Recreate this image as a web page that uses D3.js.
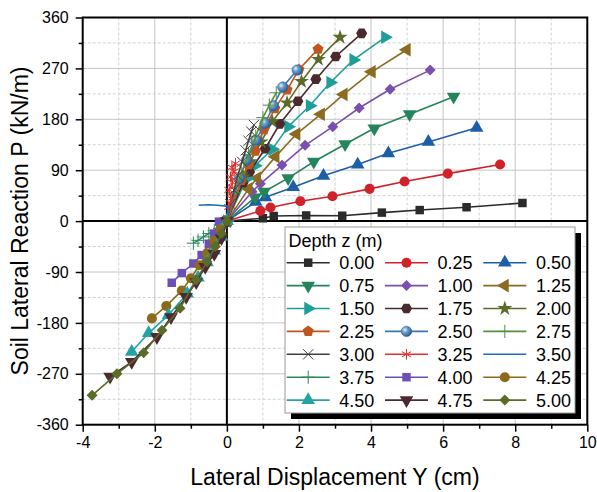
<!DOCTYPE html>
<html>
<head>
<meta charset="utf-8">
<script src="https://cdn.jsdelivr.net/npm/d3@7"></script>
<style>
  body { margin: 0; background: #fff; }
  svg text { font-family: "Liberation Sans", Arial, sans-serif; fill: #000; }
</style>
</head>
<body>
<div id="chart"></div>
<script>
// depth labels (legend)
var depths = ["0.00","0.25","0.50","0.75","1.00","1.25","1.50","1.75","2.00","2.25","2.50",
              "2.75","3.00","3.25","3.50","3.75","4.00","4.25","4.50","4.75","5.00"];

// [lateral displacement Y (cm), soil reaction P (kN/m)] for each depth
var pyPoints = [
  [[0,0],[1.0,5],[1.3,9],[2.2,10],[3.2,9.5],[4.3,15],[5.35,19.5],[6.65,24.5],[8.2,32]],
  [[0,0],[0.93,18],[1.21,24],[2.04,35],[2.93,44],[3.96,57],[4.93,70],[6.13,84],[7.58,100]],
  [[0,0],[0.8,34],[1.07,42],[1.84,60],[2.68,80],[3.63,100],[4.48,120],[5.59,140],[6.93,165]],
  [[0,0],[0.78,42],[1.03,52],[1.7,76],[2.41,105],[3.28,136],[4.09,164],[5.07,189],[6.29,220]],
  [[0,0],[0.7,52],[0.93,66],[1.53,99],[2.17,134],[2.94,167],[3.67,200],[4.53,233],[5.64,267]],
  [[0,0],[0.6,57],[0.84,76],[1.35,114],[1.93,154],[2.61,189],[3.24,224],[4.02,264],[4.99,303]],
  [[0,0],[0.55,75],[0.78,98],[1.26,127],[1.7,167],[2.3,204],[2.87,245],[3.51,285],[4.39,325]],
  [[0,0],[0.45,68],[0.63,87],[1.06,128],[1.47,172],[1.97,212],[2.47,251],[3.02,291],[3.74,332]],
  [[0,0],[0.45,78],[0.65,105],[0.95,140],[1.26,176],[1.67,209],[2.07,247],[2.54,286],[3.14,325]],
  [[0,0],[0.4,72],[0.6,100],[0.79,124],[1.03,162],[1.33,199],[1.67,232],[2.0,268],[2.53,304]],
  [[0,0],[0.35,75],[0.55,108],[0.81,143],[1.06,173],[1.29,204],[1.55,237],[1.95,267]],
  [[0,0],[0.2,50],[0.4,85],[0.6,118],[0.8,150],[1.0,183],[1.18,205],[1.37,227]],
  [[0,0],[0.1,30],[0.2,55],[0.3,80],[0.42,105],[0.52,125],[0.6,142],[0.68,158],[0.75,170]],
  [[0,0],[0.05,25],[0.12,40],[0.06,55],[0.16,68],[0.1,78],[0.2,88],[0.14,95],[0.24,102]],
  [[0,0],[0.03,26],[-0.25,28],[-0.5,29],[-0.78,28]],
  [[0,0],[-0.1,-6],[-0.2,-13],[-0.35,-17],[-0.5,-22],[-0.65,-28],[-0.8,-34],[-0.93,-39]],
  [[0,0],[-0.22,-1],[-0.35,-22],[-0.5,-40],[-0.7,-60],[-0.93,-75],[-1.25,-92],[-1.53,-109]],
  [[0,0],[-0.18,-14],[-0.35,-35],[-0.55,-57],[-0.76,-78],[-1.0,-101],[-1.25,-123],[-1.68,-150],[-2.08,-172]],
  [[0,0],[-0.14,-28],[-0.35,-52],[-0.55,-73],[-0.8,-100],[-1.1,-128],[-1.62,-166],[-2.17,-198],[-2.64,-231]],
  [[0,0],[-0.15,-30],[-0.35,-58],[-0.6,-81],[-0.85,-108],[-1.13,-134],[-1.55,-170],[-1.94,-205],[-2.64,-249],[-3.24,-275]],
  [[0,0],[-0.15,-22],[-0.32,-45],[-0.55,-72],[-0.85,-104],[-1.3,-154],[-1.8,-193],[-2.31,-233],[-3.05,-270],[-3.74,-308]]
];

var xTicks = [-4,-2,0,2,4,6,8,10];
var yTicks = [-360,-270,-180,-90,0,90,180,270,360];

// styles
var colors = ["#2b2b2b","#d0222a","#1d5ea8","#24845a","#7a4fae","#8a6b20","#1f9e99","#4a2a2e",
              "#5c6b2a","#c0561e","#3a78b5","#55913f","#404040","#e03232","#1e6bb8","#2a8a5e",
              "#6a4fb8","#8c6a1c","#24a3a3","#4d2a31","#5a6b2a"];
var markers = ["square","circle","up","down","diamond","left","right","hexagon","star","pentagon",
               "sphere","plus","times","asterisk","none","plus","square","circle","up","down","diamond"];

var margin = { top: 17.5, left: 82.7 },
    width = 504.6,
    height = 407.2;

var svg = d3.select("#chart").append("svg")
    .attr("width", 597)
    .attr("height", 492);

var defs = svg.append("defs");
var grad = defs.append("radialGradient").attr("id", "sphere")
    .attr("cx", "35%").attr("cy", "35%").attr("r", "70%");
grad.append("stop").attr("offset", "0%").attr("stop-color", "#eef5fc");
grad.append("stop").attr("offset", "35%").attr("stop-color", "#6fa3d4");
grad.append("stop").attr("offset", "100%").attr("stop-color", "#25578a");

var g = svg.append("g")
    .attr("transform", "translate(" + margin.left + "," + margin.top + ")");

var x = d3.scaleLinear().domain([-4, 10]).range([0, width]);
var y = d3.scaleLinear().domain([-360, 360]).range([height, 0]);

// grid: minor dashed, major solid
var xMinor = [-3,-1,1,3,5,7,9], yMinor = [-315,-225,-135,-45,45,135,225,315];
g.selectAll(".vminor").data(xMinor).enter().append("line")
  .attr("x1", function(d){ return x(d) }).attr("x2", function(d){ return x(d) })
  .attr("y1", 0).attr("y2", height)
  .attr("stroke", "#cdd3d3").attr("stroke-dasharray", "3,2");
g.selectAll(".hminor").data(yMinor).enter().append("line")
  .attr("y1", function(d){ return y(d) }).attr("y2", function(d){ return y(d) })
  .attr("x1", 0).attr("x2", width)
  .attr("stroke", "#cdd3d3").attr("stroke-dasharray", "3,2");
g.selectAll(".vmajor").data(xTicks).enter().append("line")
  .attr("x1", function(d){ return x(d) }).attr("x2", function(d){ return x(d) })
  .attr("y1", 0).attr("y2", height)
  .attr("stroke", "#c4c4c4");
g.selectAll(".hmajor").data(yTicks).enter().append("line")
  .attr("y1", function(d){ return y(d) }).attr("y2", function(d){ return y(d) })
  .attr("x1", 0).attr("x2", width)
  .attr("stroke", "#c4c4c4");

// zero lines
g.append("line").attr("x1", x(0)).attr("x2", x(0)).attr("y1", 0).attr("y2", height)
  .attr("stroke", "#000").attr("stroke-width", 2);
g.append("line").attr("y1", y(0)).attr("y2", y(0)).attr("x1", 0).attr("x2", width)
  .attr("stroke", "#000").attr("stroke-width", 2);

// custom polygon symbols
function polygon(n, rot) {
  return {
    draw: function(ctx, size) {
      var r = Math.sqrt(size / (n / 2 * Math.sin(2 * Math.PI / n)));
      for (var i = 0; i < n; i++) {
        var a = rot + i * 2 * Math.PI / n;
        var px = r * Math.sin(a), py = -r * Math.cos(a);
        if (i === 0) ctx.moveTo(px, py); else ctx.lineTo(px, py);
      }
      ctx.closePath();
    }
  };
}

function symbolFor(m) {
  switch (m) {
    case "square": return { type: d3.symbolSquare, size: 72, rot: 0 };
    case "circle": return { type: d3.symbolCircle, size: 80, rot: 0 };
    case "up": return { type: d3.symbolTriangle, size: 80, rot: 0 };
    case "down": return { type: d3.symbolTriangle, size: 80, rot: 180 };
    case "left": return { type: d3.symbolTriangle, size: 80, rot: -90 };
    case "right": return { type: d3.symbolTriangle, size: 80, rot: 90 };
    case "diamond": return { type: d3.symbolSquare, size: 60, rot: 45 };
    case "hexagon": return { type: polygon(6, Math.PI / 6), size: 80, rot: 0 };
    case "pentagon": return { type: polygon(5, 0), size: 80, rot: 0 };
    case "star": return { type: d3.symbolStar, size: 70, rot: 0 };
    case "sphere": return { type: d3.symbolCircle, size: 85, rot: 0 };
    case "plus": return { type: d3.symbolPlus, size: 60, rot: 0, stroke: true };
    case "times": return { type: d3.symbolTimes, size: 70, rot: 0, stroke: true };
    case "asterisk": return { type: d3.symbolAsterisk, size: 80, rot: 0, stroke: true };
  }
  return null;
}

function drawMarker(sel, i, cx, cy) {
  var s = symbolFor(markers[i]);
  if (!s) return;
  var p = sel.append("path")
    .attr("d", d3.symbol().type(s.type).size(s.size)())
    .attr("transform", "translate(" + cx + "," + cy + ") rotate(" + s.rot + ")");
  if (s.stroke) {
    p.attr("fill", "none").attr("stroke", colors[i]).attr("stroke-width", 1);
  } else if (markers[i] === "sphere") {
    p.attr("fill", "url(#sphere)").attr("stroke", "#2f639a").attr("stroke-width", 0.6);
  } else {
    p.attr("fill", colors[i]);
  }
}

var line = d3.line()
  .x(function(d){ return x(d[0]) })
  .y(function(d){ return y(d[1]) });

pyPoints.forEach(function(pts, i) {
  var sg = g.append("g").attr("class", "series");
  sg.append("path")
    .datum(pts)
    .attr("d", line)
    .attr("fill", "none")
    .attr("stroke", colors[i])
    .attr("stroke-width", 1.6);
  pts.forEach(function(d) {
    drawMarker(sg, i, x(d[0]), y(d[1]));
  });
});

// axes
var xAxis = g.append("g")
  .attr("transform", "translate(0," + height + ")")
  .call(d3.axisBottom(x).tickValues(xTicks).tickSize(7).tickPadding(5)
    .tickFormat(function(d){ return String(d) }));
xAxis.select(".domain").remove();
xAxis.selectAll("line").attr("stroke-width", 1.5);
xAxis.selectAll("text").style("font-size", "16px");

var xAxisMinor = g.append("g")
  .attr("transform", "translate(0," + height + ")")
  .call(d3.axisBottom(x).tickValues(xMinor).tickSize(4).tickFormat(""));
xAxisMinor.select(".domain").remove();
xAxisMinor.selectAll("line").attr("stroke-width", 1.5);

var yAxis = g.append("g")
  .call(d3.axisLeft(y).tickValues(yTicks).tickSize(7).tickPadding(7)
    .tickFormat(function(d){ return String(d) }));
yAxis.select(".domain").remove();
yAxis.selectAll("line").attr("stroke-width", 1.5);
yAxis.selectAll("text").style("font-size", "16px");

var yAxisMinor = g.append("g")
  .call(d3.axisLeft(y).tickValues(yMinor).tickSize(4).tickFormat(""));
yAxisMinor.select(".domain").remove();
yAxisMinor.selectAll("line").attr("stroke-width", 1.5);

// frame
g.append("rect")
  .attr("width", width).attr("height", height)
  .attr("fill", "none").attr("stroke", "#000").attr("stroke-width", 2);

// axis titles
svg.append("text")
  .attr("x", 335).attr("y", 485)
  .attr("text-anchor", "middle")
  .style("font-size", "23px")
  .text("Lateral Displacement Y (cm)");

svg.append("text")
  .attr("transform", "translate(28,221) rotate(-90)")
  .attr("text-anchor", "middle")
  .style("font-size", "23px")
  .text("Soil Lateral Reaction P (kN/m)");

// legend
var lg = svg.append("g").attr("class", "legend");
lg.append("rect").attr("x", 291).attr("y", 233).attr("width", 290).attr("height", 186).attr("fill", "#000");
lg.append("rect").attr("x", 285).attr("y", 227).attr("width", 290).attr("height", 186)
  .attr("fill", "#fff").attr("stroke", "#9a9a9a").attr("stroke-width", 1);
lg.append("text").attr("x", 288.5).attr("y", 246.5).style("font-size", "18px").text("Depth z (m)");

var colX = [286.7, 385, 483.3];
depths.forEach(function(dep, i) {
  var col = i % 3, row = Math.floor(i / 3);
  var cy = 262.7 + row * 22.9;
  var x0 = colX[col];
  var eg = lg.append("g");
  eg.append("line").attr("x1", x0).attr("x2", x0 + 43).attr("y1", cy).attr("y2", cy)
    .attr("stroke", colors[i]).attr("stroke-width", 1.6);
  drawMarker(eg, i, x0 + 21.5, cy);
  eg.append("text").attr("x", x0 + 52.6).attr("y", cy + 6.5)
    .style("font-size", "18px").text(dep);
});
</script>
</body>
</html>
